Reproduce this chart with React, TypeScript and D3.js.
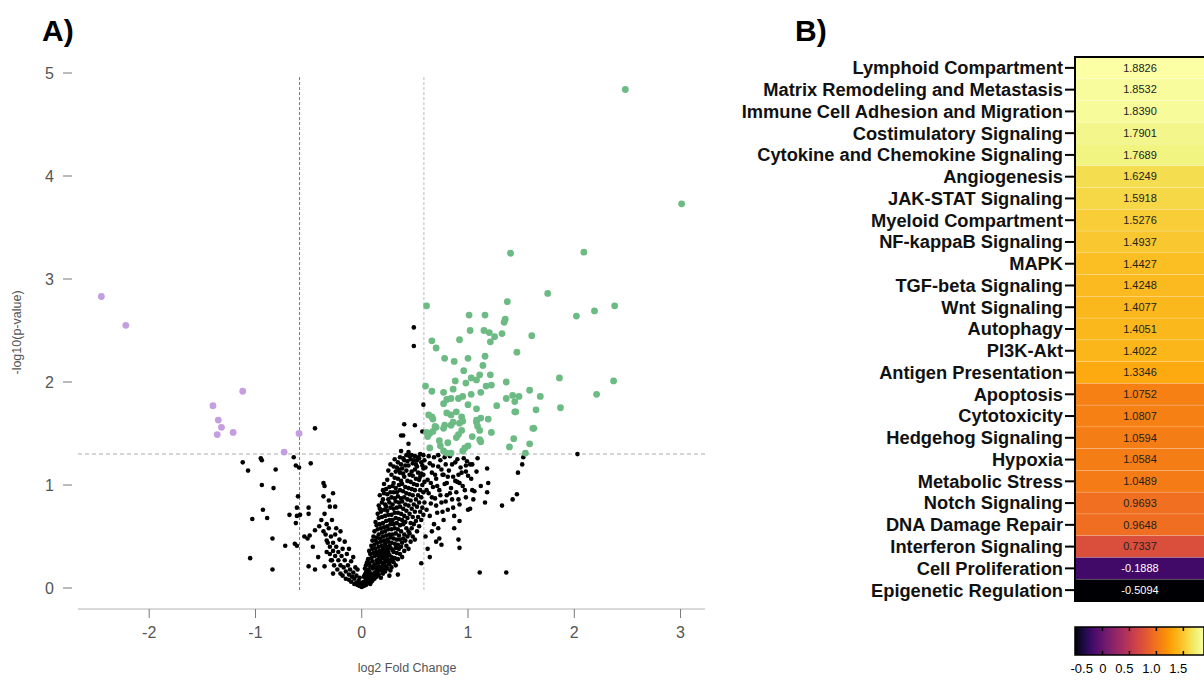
import React from 'react';
import * as d3 from 'd3';

const W = 1204;
const H = 682;
const FONT = '"Liberation Sans", Arial, Helvetica, sans-serif';

// ---- Panel A: volcano plot ----
const xTicks = [-2, -1, 0, 1, 2, 3];
const yTicks = [0, 1, 2, 3, 4, 5];
const fcCut = 0.585; // log2(1.5)
const pCut = 1.301; // -log10(0.05)
const vlineTop = 4.97;

// up-regulated (green)
const upPoints: [number, number][] = [
  [2.48, 4.84], [3.01, 3.73], [1.40, 3.25], [2.09, 3.26], [1.75, 2.86], [1.37, 2.78], [0.61, 2.74], [2.38, 2.74], [2.19, 2.69],
  [2.02, 2.64], [1.01, 2.65], [1.16, 2.65], [1.35, 2.61], [1.34, 2.58], [1.02, 2.50], [1.15, 2.50], [1.20, 2.48], [1.25, 2.44],
  [1.21, 2.39], [1.32, 2.47], [1.60, 2.45], [0.66, 2.40], [0.70, 2.33], [0.92, 2.41], [1.46, 2.29],
  [0.78, 2.23], [0.87, 2.20], [1.00, 2.23], [1.16, 2.25], [1.14, 2.16], [0.96, 2.11], [1.03, 2.04], [1.11, 2.07], [1.21, 2.07],
  [1.08, 2.02], [1.86, 2.04], [2.37, 2.01], [0.60, 1.96], [0.88, 2.01], [0.98, 1.99], [1.17, 1.96], [1.22, 1.97], [1.36, 2.00],
  [0.66, 1.91], [0.77, 1.90], [0.86, 1.93], [1.03, 1.88], [1.12, 1.90], [1.58, 1.92], [1.68, 1.86], [2.21, 1.88], [1.36, 1.84],
  [1.42, 1.87], [1.48, 1.86], [1.44, 1.81], [0.77, 1.79], [0.80, 1.83], [0.84, 1.84], [0.91, 1.84], [0.95, 1.86], [1.00, 1.78],
  [1.27, 1.77], [1.87, 1.75], [1.64, 1.73], [1.45, 1.71], [1.08, 1.74],
  [0.80, 1.70], [0.84, 1.68], [0.89, 1.71], [0.94, 1.66], [0.63, 1.68], [0.66, 1.66], [1.08, 1.63], [1.12, 1.65], [1.19, 1.64],
  [0.69, 1.57], [0.77, 1.55], [0.84, 1.58], [0.92, 1.60], [0.94, 1.53], [1.09, 1.57], [1.11, 1.53], [1.62, 1.55], [1.22, 1.51],
  [0.61, 1.51], [0.64, 1.50], [0.62, 1.47], [0.67, 1.52], [0.91, 1.49], [0.89, 1.46], [1.11, 1.44], [1.12, 1.42], [1.43, 1.45],
  [0.73, 1.43], [0.81, 1.41], [0.64, 1.36], [0.77, 1.33], [0.84, 1.31], [0.97, 1.36], [1.00, 1.38], [1.39, 1.37], [1.58, 1.40],
  [1.54, 1.31], [0.80, 1.31], [0.95, 1.33], [0.67, 1.64], [0.70, 1.56], [0.78, 1.58], [0.86, 1.61], [0.95, 1.62], [1.08, 1.61],
  [1.61, 1.55], [1.44, 1.71], [0.74, 1.38], [1.04, 1.47],
];

// down-regulated (purple)
const downPoints: [number, number][] = [
  [-2.45, 2.83], [-2.22, 2.55], [-1.12, 1.91], [-1.40, 1.77], [-1.35, 1.63], [-1.32, 1.56], [-1.36, 1.49], [-1.21, 1.51],
  [-0.59, 1.50], [-0.73, 1.32],
];

// not significant (black), scattered points
const nsPoints: [number, number][] = [
  [-1.12, 1.22], [-1.07, 1.14], [-0.95, 1.26], [-0.94, 1.24], [-0.81, 1.15], [-0.64, 1.27], [-0.62, 1.19], [-0.59, 1.17],
  [-0.48, 1.21], [-0.44, 1.55], [-0.94, 1.00], [-0.83, 0.97], [-0.36, 1.02], [-0.35, 0.99], [-0.60, 0.89], [-0.36, 0.89],
  [-0.30, 0.79], [-0.25, 0.79], [-0.93, 0.76], [-0.89, 0.68], [-1.03, 0.67], [-0.61, 0.78], [-0.50, 0.78], [-0.68, 0.71],
  [-0.61, 0.70], [-0.58, 0.71], [-0.62, 0.63], [-0.50, 0.72], [-0.84, 0.48], [-0.72, 0.41], [-0.63, 0.43], [-0.61, 0.41],
  [-1.05, 0.29], [-0.84, 0.18], [-0.50, 0.21], [-0.44, 0.18], [-0.40, 0.60], [-0.44, 0.56], [-0.49, 0.51], [-0.51, 0.48],
  [-0.54, 0.50], [-0.32, 0.44], [-0.33, 0.35], [-0.29, 0.27], [-0.35, 0.21], [-0.27, 0.14], [-0.41, 0.30], [-0.38, 0.66],
  [-0.46, 0.40], [-0.33, 0.62], [-0.28, 0.66], [-0.24, 0.58], [-0.31, 0.85], [-0.27, 0.92], [-0.20, 0.55], [-0.16, 0.45],
  [-0.12, 0.38], [-0.08, 0.30], [-0.04, 0.18], [-0.35, 0.72],
  [-0.36, 0.55], [-0.34, 0.52], [-0.33, 0.46], [-0.31, 0.58], [-0.30, 0.40], [-0.30, 0.33], [-0.29, 0.50], [-0.28, 0.27],
  [-0.27, 0.44], [-0.27, 0.36], [-0.26, 0.22], [-0.25, 0.31], [-0.25, 0.52], [-0.24, 0.40], [-0.23, 0.18], [-0.22, 0.27],
  [-0.22, 0.35], [-0.21, 0.47], [-0.20, 0.14], [-0.20, 0.22], [-0.19, 0.31], [-0.18, 0.38], [-0.18, 0.12], [-0.17, 0.20],
  [-0.16, 0.27], [-0.15, 0.09], [-0.15, 0.16], [-0.14, 0.33], [-0.13, 0.22], [-0.12, 0.08], [-0.12, 0.13], [-0.11, 0.18],
  [-0.10, 0.26], [-0.10, 0.06], [-0.09, 0.11], [-0.08, 0.15], [-0.07, 0.04], [-0.07, 0.09], [-0.06, 0.20], [-0.05, 0.05],
  [-0.05, 0.12], [-0.04, 0.03], [-0.03, 0.07], [-0.02, 0.02], [-0.02, 0.10], [-0.01, 0.04], [0.00, 0.01], [0.00, 0.05],
  [0.49, 2.53], [0.49, 2.35], [0.58, 1.78], [0.40, 1.59], [0.50, 1.58], [0.57, 1.52], [0.37, 1.48], [0.39, 1.48], [0.44, 1.40],
  [0.37, 1.33], [0.44, 1.32],
  [2.03, 1.30], [1.52, 1.27], [1.51, 1.20], [1.47, 1.12], [1.46, 0.91], [1.42, 0.86], [1.32, 0.80], [1.18, 1.16], [1.19, 1.02],
  [1.18, 0.93], [1.16, 0.83], [1.11, 0.15], [1.36, 0.15], [1.04, 0.95], [1.00, 0.76], [0.92, 0.65], [0.87, 0.58], [0.91, 0.47],
  [0.92, 0.39], [0.73, 0.48], [0.75, 0.42], [0.64, 0.30], [0.56, 0.24], [0.34, 0.13], [0.98, 1.19], [1.02, 1.20], [0.92, 1.02],
  [0.98, 1.13], [0.91, 1.10], [0.80, 1.02], [0.77, 1.10],
  [0.61, 0.76], [0.62, 1.05], [0.63, 0.92], [0.64, 1.21], [0.65, 0.82], [0.66, 1.12], [0.67, 0.98], [0.68, 1.27], [0.69, 0.87],
  [0.70, 1.06], [0.71, 0.73], [0.72, 1.18], [0.73, 0.95], [0.74, 1.24], [0.75, 0.83], [0.76, 1.10], [0.77, 0.66], [0.78, 1.01],
  [0.79, 1.20], [0.80, 0.90], [0.81, 0.76], [0.82, 1.14], [0.83, 1.28], [0.84, 0.97], [0.85, 0.86], [0.86, 1.08], [0.87, 0.70],
  [0.88, 1.22], [0.89, 0.93], [0.90, 1.03], [0.92, 0.81], [0.93, 1.17], [0.95, 0.99], [0.96, 1.26], [0.98, 0.88], [1.00, 1.09],
  [1.02, 0.77], [1.04, 1.20], [1.06, 0.94], [1.08, 1.13], [0.60, 0.50], [0.62, 0.38], [0.66, 0.55], [0.70, 0.45], [0.68, 0.62],
  [0.72, 0.58],
  [0.47, 1.29], [0.52, 1.24], [0.55, 1.30], [0.58, 1.10], [0.60, 1.17], [0.61, 0.95], [0.63, 1.28], [0.64, 0.70], [0.65, 1.02],
  [0.66, 0.88], [0.67, 1.19], [0.69, 1.10], [0.70, 0.80], [0.71, 0.99], [0.72, 1.29], [0.74, 0.90], [0.75, 1.15], [0.76, 0.74],
  [0.78, 1.27], [0.79, 0.84], [0.81, 1.08], [0.83, 0.92], [0.85, 1.20], [0.86, 0.78], [0.88, 1.04], [0.90, 1.25], [0.91, 0.86],
  [0.94, 1.12], [0.97, 0.95], [0.99, 1.23], [1.03, 1.06], [1.05, 0.86], [1.09, 1.26], [1.12, 0.99],
];

// not significant (black), dense right arm of the volcano: [log2FC, -log10 p values]
const nsColumns: [number, number[]][] = [
  [0.02, [0.02, 0.06, 0.11]],
  [0.03, [0.04, 0.13, 0.19]],
  [0.04, [0.03, 0.09, 0.15, 0.22]],
  [0.05, [0.07, 0.17, 0.25]],
  [0.06, [0.05, 0.12, 0.18, 0.28]],
  [0.07, [0.10, 0.16, 0.24, 0.36]],
  [0.08, [0.04, 0.08, 0.14, 0.21, 0.33]],
  [0.09, [0.06, 0.13, 0.29, 0.41]],
  [0.10, [0.07, 0.12, 0.19, 0.26, 0.38, 0.46]],
  [0.11, [0.10, 0.21, 0.34, 0.50]],
  [0.12, [0.09, 0.15, 0.23, 0.31, 0.42, 0.55]],
  [0.13, [0.13, 0.20, 0.38, 0.46, 0.64]],
  [0.14, [0.11, 0.18, 0.27, 0.35, 0.49, 0.61]],
  [0.15, [0.16, 0.24, 0.32, 0.44, 0.57, 0.72]],
  [0.16, [0.13, 0.21, 0.30, 0.40, 0.52, 0.68, 0.80]],
  [0.17, [0.18, 0.27, 0.36, 0.48, 0.62, 0.77, 0.90]],
  [0.18, [0.10, 0.17, 0.25, 0.34, 0.45, 0.58, 0.74]],
  [0.19, [0.20, 0.31, 0.41, 0.54, 0.69, 0.83]],
  [0.20, [0.14, 0.22, 0.29, 0.38, 0.50, 0.63, 0.86, 0.95]],
  [0.21, [0.18, 0.24, 0.36, 0.46, 0.59, 0.76, 0.92, 1.01]],
  [0.22, [0.16, 0.26, 0.33, 0.43, 0.55, 0.70, 0.81]],
  [0.23, [0.21, 0.31, 0.40, 0.51, 0.65, 0.79, 0.96]],
  [0.24, [0.19, 0.28, 0.37, 0.47, 0.60, 0.75, 0.91, 1.05]],
  [0.25, [0.25, 0.35, 0.45, 0.57, 0.71, 0.86, 1.14]],
  [0.26, [0.12, 0.23, 0.32, 0.41, 0.52, 0.66, 0.83, 0.98]],
  [0.27, [0.17, 0.27, 0.39, 0.49, 0.62, 0.78, 0.93, 1.20]],
  [0.28, [0.20, 0.30, 0.44, 0.57, 0.71, 0.88, 1.10]],
  [0.29, [0.26, 0.37, 0.52, 0.66, 0.81, 0.99]],
  [0.30, [0.25, 0.35, 0.48, 0.62, 0.77, 0.93, 1.02, 1.18]],
  [0.31, [0.29, 0.43, 0.58, 0.73, 0.87, 1.07, 1.25]],
  [0.32, [0.22, 0.39, 0.53, 0.68, 0.84, 0.97, 1.13]],
  [0.33, [0.34, 0.47, 0.63, 0.78, 0.93, 1.17]],
  [0.34, [0.28, 0.42, 0.57, 0.73, 0.89, 1.06, 1.22]],
  [0.35, [0.38, 0.51, 0.67, 0.83, 1.00, 1.15]],
  [0.36, [0.33, 0.47, 0.61, 0.79, 0.95, 1.12, 1.27]],
  [0.37, [0.40, 0.55, 0.72, 0.87, 1.04, 1.20]],
  [0.38, [0.30, 0.44, 0.66, 0.84, 1.01, 1.16]],
  [0.39, [0.48, 0.62, 0.77, 0.94, 1.11, 1.26]],
  [0.40, [0.36, 0.52, 0.70, 0.88, 1.08, 1.24]],
  [0.41, [0.46, 0.64, 0.81, 0.98, 1.19]],
  [0.42, [0.41, 0.58, 0.75, 0.92, 1.14, 1.29]],
  [0.43, [0.50, 0.68, 0.86, 1.04, 1.23]],
  [0.44, [0.38, 0.55, 0.80, 0.97, 1.19]],
  [0.45, [0.53, 0.72, 0.91, 1.10, 1.28]],
  [0.46, [0.45, 0.63, 0.85, 1.03, 1.25]],
  [0.47, [0.58, 0.77, 0.96, 1.13]],
  [0.48, [0.50, 0.69, 0.90, 1.09, 1.21]],
  [0.49, [0.62, 0.81, 1.01, 1.24]],
  [0.50, [0.47, 0.74, 0.95, 1.15, 1.28]],
  [0.51, [0.65, 0.86, 1.06, 1.20]],
  [0.52, [0.55, 0.79, 1.00, 1.18]],
  [0.53, [0.69, 0.90, 1.12, 1.27]],
  [0.54, [0.60, 0.83, 1.05, 1.26]],
  [0.55, [0.74, 0.95, 1.08]],
  [0.56, [0.66, 0.88, 1.11, 1.22]],
  [0.57, [0.78, 1.00, 1.19]],
  [0.58, [0.71, 0.93, 1.16, 1.29]],
  [0.59, [0.83, 1.03, 1.24]],
];

// ---- Panel B: pathway heatmap ----
const pathways = [
  'Lymphoid Compartment', 'Matrix Remodeling and Metastasis', 'Immune Cell Adhesion and Migration',
  'Costimulatory Signaling', 'Cytokine and Chemokine Signaling', 'Angiogenesis', 'JAK-STAT Signaling',
  'Myeloid Compartment', 'NF-kappaB Signaling', 'MAPK', 'TGF-beta Signaling', 'Wnt Signaling', 'Autophagy',
  'PI3K-Akt', 'Antigen Presentation', 'Apoptosis', 'Cytotoxicity', 'Hedgehog Signaling', 'Hypoxia',
  'Metabolic Stress', 'Notch Signaling', 'DNA Damage Repair', 'Interferon Signaling', 'Cell Proliferation',
  'Epigenetic Regulation',
];
const scores = [
  1.8826, 1.8532, 1.8390, 1.7901, 1.7689, 1.6249, 1.5918, 1.5276, 1.4937, 1.4427, 1.4248, 1.4077, 1.4051,
  1.4022, 1.3346, 1.0752, 1.0807, 1.0594, 1.0584, 1.0489, 0.9693, 0.9648, 0.7337, -0.1888, -0.5094,
];
const legendTicks = [-0.5, 0, 0.5, 1.0, 1.5];

export default function App() {
  const x = d3.scaleLinear().domain([-2.67, 3.23]).range([78, 705]);
  const y = d3.scaleLinear().domain([0, 5]).range([588, 73]);
  const axisY = 609;

  const nsAll: [number, number][] = [
    ...nsPoints,
    ...nsColumns.flatMap(([fc, ps]) => ps.map((p) => [fc, p] as [number, number])),
  ];

  const band = d3.scaleBand<string>().domain(pathways).range([57, 601]);
  const ext = d3.extent(scores) as [number, number];
  // normalised position along the inferno ramp (slight gamma to match the rendered colours)
  const tScale = d3.scaleLinear().domain(ext).range([0, 1]).clamp(true);
  const color = (v: number) => d3.interpolateInferno(Math.pow(tScale(v), 0.8));
  const hx0 = 1075;
  const hx1 = 1207;
  const legX = d3.scaleLinear().domain(ext).range([1075, 1204]);
  const stops = d3.range(0, 1.0001, 0.05);

  return (
    <svg width={W} height={H} style={{ position: 'absolute', left: 0, top: 0, background: '#fff' }} fontFamily={FONT}>
      {/* ---------- Panel A ---------- */}
      <text x={42} y={41} fontSize={30} fontWeight="bold" fill="#000">A)</text>

      {/* y axis */}
      {yTicks.map((t) => (
        <g key={'yt' + t}>
          <line x1={63} x2={72} y1={y(t)} y2={y(t)} stroke="#777" strokeWidth={1} />
          <text x={54} y={y(t) + 5.5} fontSize={16} textAnchor="end" fill="#555">{t}</text>
        </g>
      ))}
      <text transform={`translate(21,${(y(0) + y(5)) / 2 + 2}) rotate(-90)`} fontSize={12.5} textAnchor="middle" fill="#555">
        -log10(p-value)
      </text>

      {/* x axis */}
      <line x1={x.range()[0]} x2={x.range()[1]} y1={axisY} y2={axisY} stroke="#ccc" strokeWidth={1.5} />
      {xTicks.map((t) => (
        <g key={'xt' + t}>
          <line x1={x(t)} x2={x(t)} y1={axisY} y2={axisY + 9} stroke="#777" strokeWidth={1} />
          <text x={x(t)} y={axisY + 29} fontSize={16} textAnchor="middle" fill="#555">{t}</text>
        </g>
      ))}
      <text x={407} y={672} fontSize={12.5} textAnchor="middle" fill="#555">log2 Fold Change</text>

      {/* threshold lines */}
      <line x1={x.range()[0]} x2={x.range()[1]} y1={y(pCut)} y2={y(pCut)} stroke="#aaa" strokeWidth={1} strokeDasharray="4,3" />
      <line x1={x(-fcCut)} x2={x(-fcCut)} y1={y(-0.02)} y2={y(vlineTop)} stroke="#777" strokeWidth={1} strokeDasharray="3,2" />
      <line x1={x(fcCut)} x2={x(fcCut)} y1={y(-0.02)} y2={y(vlineTop)} stroke="#bbb" strokeWidth={1} strokeDasharray="3,2" />

      {/* points */}
      {nsAll.map(([fc, p], i) => (
        <circle key={'n' + i} cx={x(fc)} cy={y(p)} r={2.3} fill="#000" />
      ))}
      {upPoints.map(([fc, p], i) => (
        <circle key={'u' + i} cx={x(fc)} cy={y(p)} r={3.4} fill="#6dbb84" />
      ))}
      {downPoints.map(([fc, p], i) => (
        <circle key={'d' + i} cx={x(fc)} cy={y(p)} r={3.4} fill="#c49ee0" />
      ))}

      {/* ---------- Panel B ---------- */}
      <text x={795} y={41} fontSize={30} fontWeight="bold" fill="#000">B)</text>

      {pathways.map((name, i) => {
        const y0 = band(name) as number;
        const h = band.bandwidth();
        const v = scores[i];
        return (
          <g key={name}>
            <rect x={hx0} y={y0} width={hx1 - hx0} height={h} fill={color(v)} stroke="rgba(255,255,255,0.25)" strokeWidth={0.6} />
            <text x={hx0 + 65} y={y0 + h / 2 + 3.8} fontSize={11} textAnchor="middle" fill={v < 0 ? '#fff' : '#222'}>
              {v.toFixed(4)}
            </text>
            <line x1={1065} x2={1075} y1={y0 + h / 2} y2={y0 + h / 2} stroke="#000" strokeWidth={2} />
            <text x={1063} y={y0 + h / 2 + 6.4} fontSize={18.3} fontWeight="bold" textAnchor="end" fill="#111">
              {name}
            </text>
          </g>
        );
      })}
      <rect x={hx0} y={band.range()[0]} width={hx1 - hx0} height={band.range()[1] - band.range()[0]} fill="none" stroke="#000" strokeWidth={2} />

      {/* colour bar */}
      <defs>
        <linearGradient id="inferno" x1="0" x2="1" y1="0" y2="0">
          {stops.map((s) => (
            <stop key={s} offset={s} stopColor={color(ext[0] + s * (ext[1] - ext[0]))} />
          ))}
        </linearGradient>
      </defs>
      <rect x={legX.range()[0]} y={627} width={legX.range()[1] - legX.range()[0]} height={28} fill="url(#inferno)" stroke="#000" strokeWidth={1.5} />
      {legendTicks.slice(1).map((t) => (
        <g key={'lt' + t}>
          <line x1={legX(t)} x2={legX(t)} y1={627} y2={631} stroke="#000" strokeWidth={1.5} />
          <line x1={legX(t)} x2={legX(t)} y1={651} y2={655} stroke="#000" strokeWidth={1.5} />
        </g>
      ))}
      {legendTicks.map((t, i) => (
        <text
          key={'ll' + t}
          x={i === 0 ? legX(t) - 5 : legX(t) + 4}
          y={673}
          fontSize={13}
          textAnchor={i === 0 ? 'start' : 'end'}
          fill="#000"
        >
          {t === 0 ? '0' : t.toFixed(1)}
        </text>
      ))}
    </svg>
  );
}
